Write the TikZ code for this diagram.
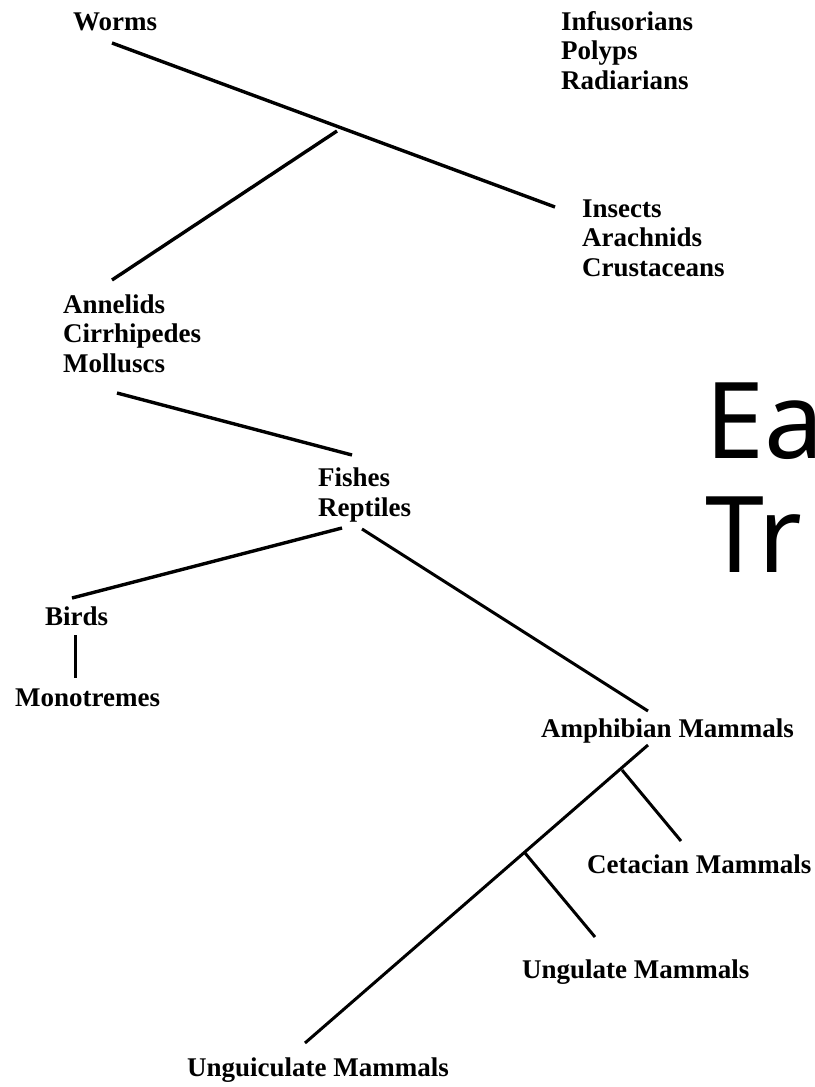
\documentclass[tikz,border=0pt]{standalone}
\usepackage{fontspec}
\setmainfont{Liberation Serif}
\newfontfamily\titlefont{Noto Sans}
\begin{document}
\begin{tikzpicture}[x=1pt,y=-1pt,
  lbl/.style={anchor=base west, inner sep=0pt, align=left, font=\bfseries\fontsize{27}{29.5}\selectfont},
  branch/.style={line width=3.4pt},
  thinbranch/.style={line width=3pt}]
\useasboundingbox (0,0) rectangle (814,1087);
% labels (multi-line nodes are anchored at the baseline of their last line)
\node[lbl] (worms) at (73,30) {Worms};
\node[lbl] (infus) at (561,89) {Infusorians\\Polyps\\Radiarians};
\node[lbl] (insects) at (582,276) {Insects\\Arachnids\\Crustaceans};
\node[lbl] (annel) at (63,372) {Annelids\\Cirrhipedes\\Molluscs};
\node[lbl] (fishes) at (318,516) {Fishes\\Reptiles};
\node[lbl] (birds) at (45,625) {Birds};
\node[lbl] (mono) at (15,706) {Monotremes};
\node[lbl] (amph) at (541,737) {Amphibian Mammals};
\node[lbl] (ceta) at (587,873) {Cetacian Mammals};
\node[lbl] (ungul) at (522,978) {Ungulate Mammals};
\node[lbl] (unguic) at (187,1076) {Unguiculate Mammals};
% title, clipped at the right edge
\begin{scope}
  \clip (0,0) rectangle (814,1087);
  \node[anchor=base west, inner sep=0pt, align=left, font=\titlefont\fontsize{106}{114}\selectfont] (title) at (705,572) {Ea\\Tr};
\end{scope}
% connector end points
\coordinate (wA) at (112,43);
\coordinate (wB) at (555,207);
\coordinate (jW) at (337,131);
\coordinate (aTop) at (112,280);
\coordinate (aBot) at (117,393);
\coordinate (fTop) at (352,455);
\coordinate (fL) at (342,528);
\coordinate (fR) at (362,529);
\coordinate (bTop) at (72,598);
\coordinate (bBot) at (75,635);
\coordinate (mTop) at (75,678);
\coordinate (amTop) at (648,711);
\coordinate (amBot) at (648,745);
\coordinate (uEnd) at (305,1043);
\coordinate (j1) at (622,770);
\coordinate (cEnd) at (681,841);
\coordinate (j2) at (525,853);
\coordinate (gEnd) at (595,937);
% connectors
\draw[branch] (wA) -- (wB);
\draw[branch] (jW) -- (aTop);
\draw[branch] (aBot) -- (fTop);
\draw[branch] (fL) -- (bTop);
\draw[thinbranch] (fR) -- (amTop);
\draw[thinbranch] (bBot) -- (mTop);
\draw[thinbranch] (amBot) -- (uEnd);
\draw[thinbranch] (j1) -- (cEnd);
\draw[thinbranch] (j2) -- (gEnd);
\end{tikzpicture}
\end{document}
